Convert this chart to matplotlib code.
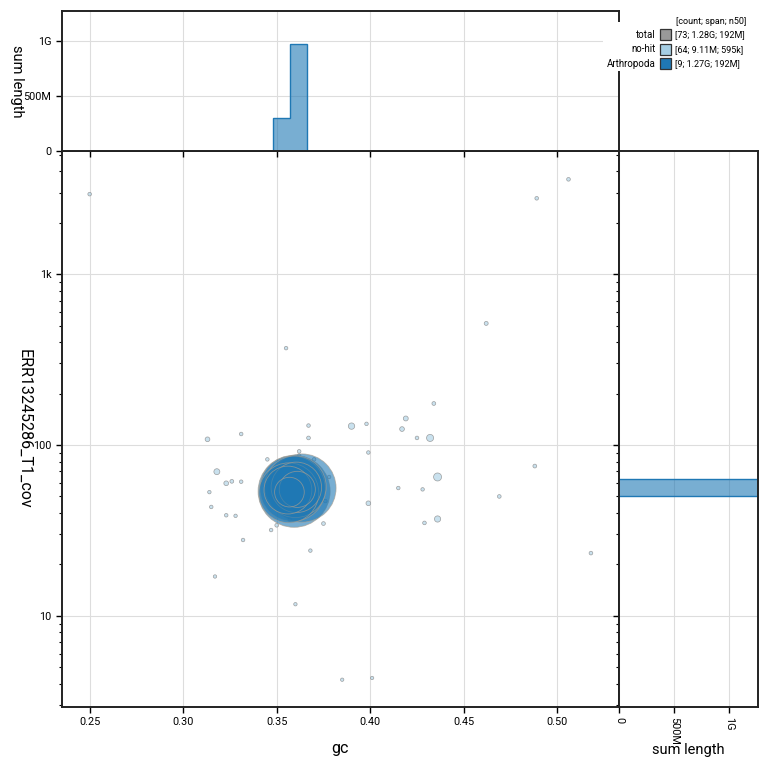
import numpy as np
import matplotlib
matplotlib.use("Agg")
import matplotlib.pyplot as plt
from matplotlib.patches import Rectangle
from matplotlib.colors import to_rgba

plt.rcParams["font.family"] = ["Roboto", "DejaVu Sans"]

# Arthropoda sequences
arth_gc = [0.3593, 0.3635, 0.3585, 0.3600, 0.3565, 0.3605, 0.3560, 0.3610, 0.3568]
arth_cov = [53.6, 56.0, 55.5, 57.0, 52.5, 56.5, 54.5, 55.0, 53.0]
arth_len = [235e6, 210e6, 192e6, 170e6, 160e6, 112e6, 100e6, 55e6, 36e6]

# no-hit sequences
nohit_gc = [0.250, 0.355, 0.367, 0.506, 0.489, 0.462, 0.434, 0.419, 0.398, 0.390,
            0.417, 0.425, 0.432, 0.399, 0.488, 0.436, 0.415, 0.428, 0.469, 0.399,
            0.436, 0.429, 0.518, 0.313, 0.331, 0.367, 0.362, 0.362, 0.345, 0.370,
            0.318, 0.323, 0.326, 0.331, 0.314, 0.315, 0.323, 0.328, 0.350, 0.347,
            0.375, 0.332, 0.368, 0.317, 0.360, 0.385, 0.401, 0.378, 0.376, 0.357,
            0.352, 0.355, 0.358, 0.361, 0.364, 0.366, 0.353, 0.357, 0.360, 0.363,
            0.368, 0.354, 0.359, 0.362]
nohit_cov = [2940, 369, 130, 3590, 2780, 515, 175, 143, 133, 129,
             124, 110, 110, 90.4, 75.3, 65, 56, 55, 50, 45.6,
             36.9, 35, 23.3, 108, 116, 110, 91.8, 86.7, 82.4, 82.4,
             69.8, 59.7, 61.3, 61, 53, 43.4, 38.8, 38.5, 33.9, 31.8,
             34.7, 27.8, 24.1, 17, 11.7, 4.23, 4.33, 65, 47, 36.6,
             60, 48, 62, 50, 61, 49, 55, 58, 46, 53,
             57, 51, 59, 64]
nohit_len = [70e3, 60e3, 65e3, 75e3, 70e3, 115e3, 90e3, 300e3, 60e3, 750e3,
             250e3, 70e3, 1050e3, 60e3, 90e3, 1500e3, 60e3, 55e3, 75e3, 250e3,
             700e3, 70e3, 75e3, 250e3, 65e3, 80e3, 70e3, 55e3, 60e3, 55e3,
             595e3, 250e3, 90e3, 60e3, 50e3, 60e3, 60e3, 50e3, 80e3, 60e3,
             85e3, 60e3, 55e3, 45e3, 45e3, 40e3, 40e3, 60e3, 60e3, 60e3,
             45e3, 40e3, 50e3, 45e3, 40e3, 45e3, 50e3, 40e3, 45e3, 40e3,
             45e3, 40e3, 45e3, 40e3]

legend_names = ["total", "no-hit", "Arthropoda"]
legend_stats = ["[73; 1.28G; 192M]", "[64; 9.11M; 595k]", "[9; 1.27G; 192M]"]
legend_colors = ["#999999", "#a6cee3", "#1f78b4"]

x_ticks = [0.25, 0.30, 0.35, 0.40, 0.45, 0.50]
x_ticklabels = ["0.25", "0.30", "0.35", "0.40", "0.45", "0.50"]
y_ticks = [10, 100, 1000]
y_ticklabels = ["10", "100", "1k"]
len_ticks = [0, 5e8, 1e9]
len_ticklabels = ["0", "500M", "1G"]

xlim = (0.2351, 0.5330)
ylim = (2.94, 5280)
len_max = 1.27e9

W = 770.0


def rect(l, t, r, b):
    return [l / W, 1 - b / W, (r - l) / W, (b - t) / W]


def marker_size(lengths):
    r_px = 1.22 + 0.002269 * np.sqrt(np.array(lengths))
    return (2 * r_px * 0.72) ** 2


def hist_steps(a, values, weights, bins, color, outline=True, orient="vertical"):
    sums, edges = np.histogram(values, bins=bins, weights=weights)
    nz = np.nonzero(sums)[0]
    lo, hi = nz[0], nz[-1] + 1
    sums, edges = sums[lo:hi], edges[lo:hi + 1]
    a.stairs(sums, edges, baseline=0, fill=True, orientation=orient,
             facecolor=to_rgba(color, 0.6), edgecolor="none", lw=0)
    if outline:
        a.stairs(sums, edges, baseline=0, fill=False, orientation=orient,
                 edgecolor=color, lw=1)


fig = plt.figure(figsize=(7.7, 7.7), dpi=100)
ax = fig.add_axes(rect(61.8, 150.7, 619, 706.7))
ax_top = fig.add_axes(rect(61.8, 11, 619, 150.7))
ax_right = fig.add_axes(rect(619, 150.7, 757.7, 706.7))

for a in (ax, ax_top, ax_right):
    a.set_axisbelow(True)
    a.grid(True, color="#dddddd", lw=0.8)
    for s in a.spines.values():
        s.set_linewidth(1.4)
        s.set_color("#222222")

# scatter
ax.scatter(nohit_gc, nohit_cov, s=marker_size(nohit_len),
           facecolors=to_rgba("#a6cee3", 0.6), edgecolors=to_rgba("#8a8a8a", 0.8),
           linewidths=0.5, zorder=2)
order = np.argsort(arth_len)[::-1]
ax.scatter(np.array(arth_gc)[order], np.array(arth_cov)[order],
           s=marker_size(np.array(arth_len)[order]),
           facecolors=to_rgba("#1f78b4", 0.6), edgecolors=to_rgba("#a89e90", 0.7),
           linewidths=0.6, zorder=3)
ax.set_yscale("log")
ax.set_xlim(*xlim)
ax.set_ylim(*ylim)
ax.set_xticks(x_ticks)
ax.set_xticklabels(x_ticklabels)
ax.set_yticks(y_ticks)
ax.set_yticklabels(y_ticklabels)
ax.tick_params(axis="both", which="major", labelsize=7.8, length=4, width=1, direction="out")
ax.tick_params(axis="y", which="minor", length=2.2, width=0.8, labelleft=False)
ax.set_xlabel("gc", fontsize=11.5, va="center")
ax.xaxis.set_label_coords(0.5, -0.075)
ax.set_ylabel("ERR13245286_T1_cov", fontsize=11.5, rotation=270, va="center", ha="center")
ax.yaxis.set_label_coords(-0.068, 0.5)

# histogram bins
gc_bins = np.arange(0.2299, 0.5400, 0.0091)
cov_bins = 10 ** np.arange(0.4, 3.81, 0.1)

# top histogram
hist_steps(ax_top, nohit_gc, nohit_len, gc_bins, "#a6cee3", outline=False)
hist_steps(ax_top, arth_gc, arth_len, gc_bins, "#1f78b4")
ax_top.set_xlim(*xlim)
ax_top.set_ylim(0, len_max)
ax_top.set_xticks(x_ticks)
ax_top.set_yticks(len_ticks)
ax_top.set_yticklabels(len_ticklabels)
ax_top.tick_params(axis="x", labelbottom=False, length=4, width=1)
ax_top.tick_params(axis="y", labelsize=7.8, length=4, width=1)
ax_top.set_ylabel("sum length", fontsize=10.5, rotation=270, va="center", ha="center")
ax_top.yaxis.set_label_coords(-0.080, 0.5)

# right histogram
hist_steps(ax_right, nohit_cov, nohit_len, cov_bins, "#a6cee3", outline=False,
           orient="horizontal")
hist_steps(ax_right, arth_cov, arth_len, cov_bins, "#1f78b4", orient="horizontal")
ax_right.set_yscale("log")
ax_right.set_ylim(*ylim)
ax_right.set_xlim(0, 1.264e9)
ax_right.set_yticks(y_ticks)
ax_right.set_xticks(len_ticks)
ax_right.set_xticklabels(len_ticklabels)
ax_right.tick_params(axis="y", which="both", labelleft=False)
ax_right.tick_params(axis="y", which="major", length=4, width=1)
ax_right.tick_params(axis="y", which="minor", length=2.2, width=0.8)
ax_right.tick_params(axis="x", labelsize=7.8, length=4, width=1, labelrotation=-90)
ax_right.set_xlabel("sum length", fontsize=10.5, va="center")
ax_right.xaxis.set_label_coords(0.5, -0.078)

# legend
fig.add_artist(Rectangle((603 / W, 1 - 71 / W), 165 / W, 49 / W,
                         transform=fig.transFigure, facecolor="white",
                         edgecolor="none", zorder=5))
fig.text(676 / W, 1 - 21 / W, "[count; span; n50]", fontsize=6.5,
         ha="left", va="center", zorder=6)
for i, (name, stat, col) in enumerate(zip(legend_names, legend_stats, legend_colors)):
    yc = 34.7 + 14.5 * i
    fig.text(656 / W, 1 - yc / W, name, fontsize=7, ha="right", va="center", zorder=6)
    fig.add_artist(Rectangle((660 / W, 1 - (yc + 5.5) / W), 11 / W, 11 / W,
                             transform=fig.transFigure, facecolor=col,
                             edgecolor="#333333", lw=0.9, zorder=6))
    fig.text(675 / W, 1 - yc / W, stat, fontsize=6.5, ha="left", va="center", zorder=6)

fig.savefig("out.png", dpi=100)
